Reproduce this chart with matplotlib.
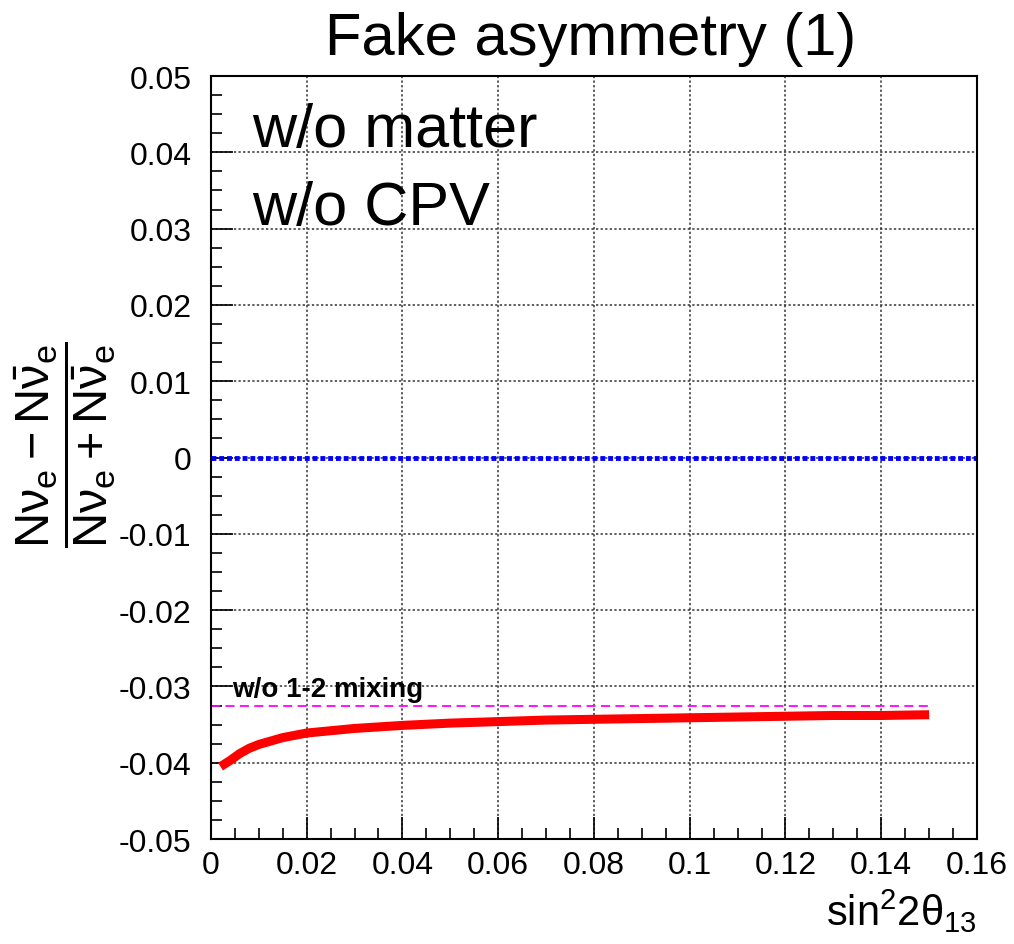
import matplotlib
matplotlib.use('Agg')
import matplotlib.pyplot as plt
from matplotlib.ticker import MultipleLocator, FuncFormatter

plt.rcParams['font.family'] = ['Liberation Sans', 'DejaVu Sans']
plt.rcParams['mathtext.fontset'] = 'custom'
plt.rcParams['mathtext.rm'] = 'Liberation Sans'
plt.rcParams['mathtext.it'] = 'Liberation Sans:italic'
plt.rcParams['mathtext.sf'] = 'Liberation Sans'

# sin^2 2theta13 vs asymmetry
s2t = [0.002, 0.004, 0.006, 0.008, 0.010, 0.015, 0.020, 0.030, 0.040, 0.050,
       0.060, 0.070, 0.080, 0.090, 0.100, 0.110, 0.120, 0.130, 0.140, 0.150]
asym = [-0.0405, -0.0397, -0.0388, -0.0381, -0.0376, -0.0367, -0.0361, -0.0355,
        -0.0351, -0.0348, -0.0346, -0.0344, -0.0343, -0.0342, -0.0341, -0.0340,
        -0.0339, -0.0338, -0.0338, -0.0337]

# reference without 1-2 mixing
ref_x = [0.0, 0.15]
ref_y = [-0.0325, -0.0325]

# zero line
zero_x = [0.0, 0.16]
zero_y = [0.0, 0.0]

fig = plt.figure(figsize=(10.14, 9.45), dpi=100)
ax = fig.add_axes([0.208, 0.111, 0.7555, 0.8075])

ax.plot(zero_x, zero_y, color='blue', linewidth=3.5, linestyle=(0, (1.0, 0.6)))
ax.plot(ref_x, ref_y, color='magenta', linewidth=1.3, linestyle=(0, (5, 3)))
ax.plot(s2t, asym, color='red', linewidth=6.5, solid_capstyle='butt')

ax.set_xlim(0, 0.16)
ax.set_ylim(-0.05, 0.05)

ax.xaxis.set_major_locator(MultipleLocator(0.02))
ax.xaxis.set_minor_locator(MultipleLocator(0.005))
ax.yaxis.set_major_locator(MultipleLocator(0.01))
ax.yaxis.set_minor_locator(MultipleLocator(0.0025))

def fmt(v, pos):
    if abs(v) < 1e-9:
        return '0'
    return ('%.2f' % v).rstrip('0')

ax.xaxis.set_major_formatter(FuncFormatter(fmt))
ax.yaxis.set_major_formatter(FuncFormatter(fmt))

ax.tick_params(which='major', direction='in', length=16, width=1.2, labelsize=23)
ax.tick_params(axis='y', which='major', pad=14)
ax.tick_params(axis='x', which='major', pad=8)
ax.tick_params(which='minor', direction='in', length=8, width=1.2)
for sp in ax.spines.values():
    sp.set_linewidth(1.5)

ax.grid(True, which='major', color='#333333', linestyle=(0, (1.5, 1.5)), linewidth=1.1)
ax.set_axisbelow(True)

ax.text(0.0044, -0.0313, 'w/o 1-2 mixing', fontsize=20, fontweight='bold')
ax.text(0.0085, 0.0428, 'w/o matter', fontsize=44, va='center')
ax.text(0.0085, 0.0326, 'w/o CPV', fontsize=44, va='center')

fig.text(0.582, 0.958, 'Fake asymmetry (1)', fontsize=43, ha='center', va='center')
fig.text(0.963, 0.035, r'sin$^{2}$2$\mathrm{\theta}_{13}$', fontsize=30, ha='right', va='center')
fig.text(0.064, 0.53,
         r'$\mathregular{\dfrac{N\nu_e - N\bar{\nu}_e}{N\nu_e + N\bar{\nu}_e}}$',
         fontsize=35, rotation=90, ha='center', va='center')

fig.savefig('out.png', dpi=100)
